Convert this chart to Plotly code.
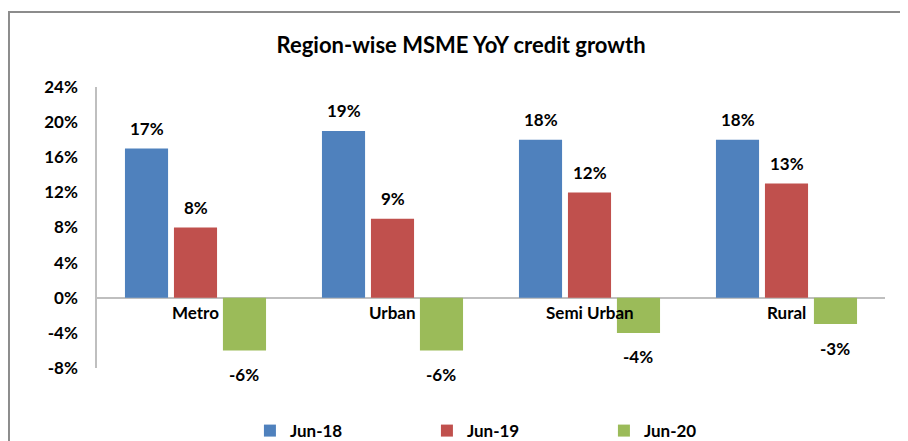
import plotly.graph_objects as go

categories = ["Metro", "Urban", "Semi Urban", "Rural"]
series_names = ["Jun-18", "Jun-19", "Jun-20"]
jun18 = [17, 19, 18, 18]
jun19 = [8, 9, 12, 13]
jun20 = [-6, -6, -4, -3]
colors = ["#4F81BD", "#C0504D", "#9BBB59"]
y_ticks = [-8, -4, 0, 4, 8, 12, 16, 20, 24]
y_tick_text = [f"{t}%" for t in y_ticks]

FONT = "Lato"
bargap = 0.254
bargroupgap = 0.12

fig = go.Figure()
all_series = [jun18, jun19, jun20]
for name, vals, col in zip(series_names, all_series, colors):
    fig.add_trace(go.Bar(x=categories, y=vals, name=name, marker_color=col,
                         marker_line_width=0))

# data labels (Excel-like offset)
slot = (1 - bargap) / 3
for k, vals in enumerate(all_series):
    for i, v in enumerate(vals):
        fig.add_annotation(x=i + (k - 1) * slot, y=v, xref="x", yref="y",
                           text=f"{v}%", showarrow=False,
                           yshift=20 if v >= 0 else -24,
                           font=dict(family=FONT, size=17, color="#000000", weight="bold"))

# category labels near zero line
for i, c in enumerate(categories):
    fig.add_annotation(x=i, y=0.153, xref="x", yref="paper", text=c, showarrow=False,
                       font=dict(family=FONT, size=17, color="#000000", weight="bold"))

# chart border (partially clipped like the reference)
fig.add_shape(type="rect", xref="paper", yref="paper",
              x0=-0.1117, x1=1.2, y0=-0.4, y1=1.267,
              line=dict(color="#8C8C8C", width=2), fillcolor="rgba(0,0,0,0)", layer="below")

fig.update_layout(
    width=900, height=433, autosize=False,
    margin=dict(l=89, r=23, t=79, b=73),
    paper_bgcolor="white", plot_bgcolor="white",
    barmode="group", bargap=bargap, bargroupgap=bargroupgap,
    title=dict(text="Region-wise MSME YoY credit growth", x=0.462, xanchor="center",
               y=0.9145, yanchor="middle", xref="paper",
               font=dict(family=FONT, size=22, color="#000000", weight="bold")),
    showlegend=True,
    legend=dict(orientation="h", x=0.531, xanchor="center", yref="container",
                y=0.023, yanchor="middle",
                font=dict(family=FONT, size=17, color="#000000", weight="bold"),
                entrywidth=132, entrywidthmode="pixels", itemwidth=30),
    xaxis=dict(showticklabels=False, showline=False, showgrid=False, ticks=""),
    yaxis=dict(range=[-8, 24], tickvals=y_ticks, ticktext=y_tick_text, showgrid=False,
               showline=True, linecolor="#BFBFBF", linewidth=1.5,
               zeroline=True, zerolinecolor="#BFBFBF", zerolinewidth=2,
               ticks="", ticklabelstandoff=14,
               tickfont=dict(family=FONT, size=17, color="#000000", weight="bold")),
)

fig.write_html("out.html")
